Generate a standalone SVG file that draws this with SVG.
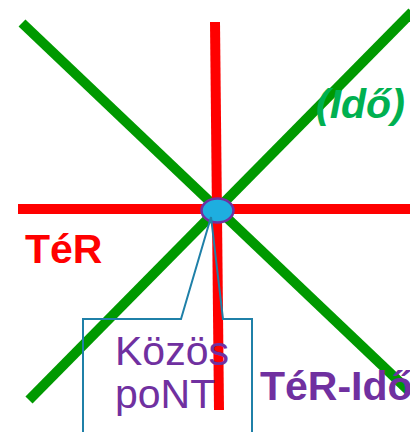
<svg xmlns="http://www.w3.org/2000/svg" width="410" height="432" viewBox="0 0 410 432">
<style>
.g{stroke:#009900;stroke-width:10;fill:none}
.r{stroke:#ff0000;stroke-width:10;fill:none}
.t{font-family:"Liberation Sans",Arial,sans-serif;font-size:41px}
</style>
<rect width="410" height="432" fill="#ffffff"/>
<g id="connectors">
<line class="g" x1="22" y1="23" x2="410" y2="392"/>
<line class="g" x1="29" y1="400" x2="412" y2="12"/>
<line class="r" x1="18" y1="209" x2="410" y2="209"/>
<line class="r" x1="215" y1="22" x2="219" y2="410"/>
</g>
<g id="point">
<ellipse cx="217.5" cy="210.5" rx="16" ry="12" fill="#1eaee0" stroke="#7030a0" stroke-width="2.5"/>
</g>
<g id="callout">
<path d="M83,432 V319 H181 L211,217 L223,319 H252 V432" fill="none" stroke="#1f80a8" stroke-width="2"/>
<text class="t" x="115" y="365" fill="#7030a0">Közös</text>
<text class="t" x="115" y="408" fill="#7030a0">poNT</text>
</g>
<g id="ter">
<text class="t" x="25" y="263" fill="#ff0000" font-weight="bold">TéR</text>
</g>
<g id="ido">
<text class="t" x="316" y="118" fill="#00b050" font-weight="bold" font-style="italic" font-size="40">(Idő)</text>
</g>
<g id="terido">
<text class="t" x="260" y="400" fill="#7030a0" font-weight="bold" font-size="43">TéR-Idő</text>
</g>
</svg>
